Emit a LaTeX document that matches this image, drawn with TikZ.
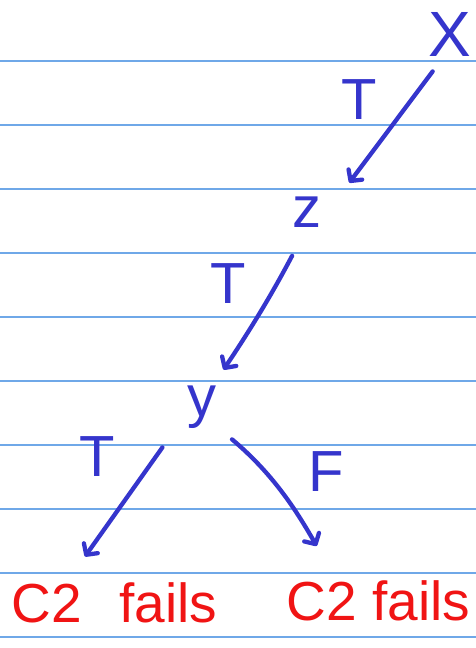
\documentclass[tikz,border=0pt]{standalone}
\usepackage{fontspec}
\setmainfont{Liberation Sans}
\usetikzlibrary{arrows.meta}
\definecolor{pen}{HTML}{3535CC}
\definecolor{ink}{HTML}{F01414}
\definecolor{rule}{HTML}{6FA8E8}

\begin{document}
\begin{tikzpicture}[x=1pt,y=1pt,line cap=round,every node/.style={inner sep=0pt,text=pen,font=\fontsize{58}{58}\selectfont},result/.style={text=ink,font=\fontsize{55}{55}\selectfont},edge/.style={pen,line width=4.3pt,-{Straight Barb[round,length=8pt,width=17pt]}},ruled/.style={rule,line width=1.2pt}]
\path[use as bounding box] (0,0) rectangle (476,648);

% ruled paper
\foreach \k in {0,...,9} \draw[ruled] (0,587-64*\k) -- (476,587-64*\k);

\node[font=\fontsize{64}{64}\selectfont] (x) at (450,614) {X};
\node (z) at (307,436) {z};
\node (y) at (202,241) {y};
\node[result] (lres) at (114.5,45) {C2\hspace{.4em} fails};
\node[result] (rres) at (378.5,47) {C2 fails};

\node (t1) at (359,548) {T};
\node (t2) at (228,364) {T};
\node (t3) at (97,191) {T};
\node (f) at (326,176.5) {F};

\draw[edge,shorten <=19pt,shorten >=46pt] (x.255) -- (z.333);
\draw[edge,shorten <=32pt,shorten >=19pt] (z.south) to[bend left=3] (y.63);
\draw[edge,shorten <=43pt,shorten >=32pt] (y.200) -- (lres.157);
\draw[edge,shorten <=20pt,shorten >=40pt] (y.307) to[out=-40,in=120] (rres.154);

\end{tikzpicture}
\end{document}
